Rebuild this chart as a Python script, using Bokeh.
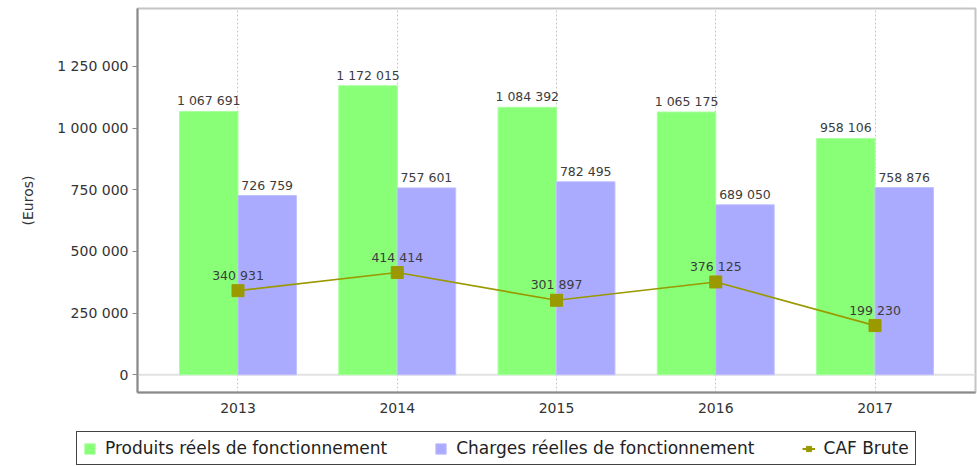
from bokeh.plotting import figure
from bokeh.layouts import column
from bokeh.models import (ColumnDataSource, FixedTicker, Range1d, Span, Legend, LegendItem,
                          LabelSet)
from bokeh.core.properties import value
from bokeh.embed import file_html
from bokeh.resources import INLINE

years = ["2013", "2014", "2015", "2016", "2017"]
produits = [1067691, 1172015, 1084392, 1065175, 958106]
charges = [726759, 757601, 782495, 689050, 758876]
caf = [340931, 414414, 301897, 376125, 199230]
y_ticks = [0, 250000, 500000, 750000, 1000000, 1250000]
series_names = ["Produits réels de fonctionnement", "Charges réelles de fonctionnement", "CAF Brute"]

GREEN = "#88ff77"
BLUE = "#aaaaff"
OLIVE = "#9a9a00"

def fmt(v):
    return f"{v:,}".replace(",", " ")

FONT = "DejaVu Sans"
idx = list(range(len(years)))
bw = 0.367

src = ColumnDataSource(dict(
    x=idx,
    xg=[i - bw / 2 for i in idx],
    xb=[i + bw / 2 for i in idx],
    produits=produits, charges=charges, caf=caf,
    lp=[fmt(v) for v in produits],
    lc=[fmt(v) for v in charges],
    lf=[fmt(v) for v in caf],
))

p = figure(width=977, height=428, output_backend="svg", toolbar_location=None,
           x_range=Range1d(-0.631, 4.631), y_range=Range1d(-72000, 1485000),
           min_border_left=137, min_border_right=2, min_border_top=8, min_border_bottom=36)

p.background_fill_color = "white"
p.border_fill_color = "white"
p.outline_line_color = "#c4c4c4"
p.outline_line_width = 2

# grid
p.ygrid.grid_line_color = None
p.xgrid.grid_line_color = "#c8c8c8"
p.xgrid.grid_line_dash = "2 2"
p.xgrid.grid_line_width = 1
p.xgrid.ticker = FixedTicker(ticks=idx)

zero = Span(location=0, dimension="width", line_color="#e2e2e2", line_width=2, level="underlay")
p.add_layout(zero)

bar_kw = dict(bottom=0, width=bw, source=src, line_width=1)
p.vbar(x="xg", top="produits", fill_color=GREEN, line_color="#a8ffa0", **bar_kw)
p.vbar(x="xb", top="charges", fill_color=BLUE, line_color="#c0c0ff", **bar_kw)
p.line(x="x", y="caf", source=src, line_color=OLIVE, line_width=1.6)
p.scatter(x="x", y="caf", source=src, marker="square", size=12,
          fill_color=OLIVE, line_color=OLIVE)

# value labels
for xcol, ycol, tcol, off in (("xg", "produits", "lp", 3), ("xb", "charges", "lc", 3),
                              ("x", "caf", "lf", 8)):
    p.add_layout(LabelSet(x=xcol, y=ycol, text=tcol, source=src, text_align="center",
                          text_baseline="bottom", y_offset=off, text_font=value(FONT),
                          text_font_size=value("12.5px"), text_color=value("#3c3c3c")))

# axes
p.xaxis.ticker = FixedTicker(ticks=idx)
p.xaxis.major_label_overrides = {i: y for i, y in zip(idx, years)}
p.yaxis.ticker = FixedTicker(ticks=y_ticks)
p.yaxis.major_label_overrides = {v: fmt(v) for v in y_ticks}
for ax in (p.xaxis[0], p.yaxis[0]):
    ax.axis_line_color = "#8a8a8a"
    ax.axis_line_width = 2
    ax.major_tick_line_color = "#8a8a8a"
    ax.minor_tick_line_color = None
    ax.major_label_text_font = FONT
    ax.major_label_text_font_size = "14px"
    ax.major_label_text_color = "#333333"
p.xaxis.major_tick_out = 0
p.xaxis.major_tick_in = 0
p.xaxis.major_label_standoff = 10
p.yaxis.major_tick_out = 5
p.yaxis.major_tick_in = 0
p.yaxis.major_label_standoff = 4
p.yaxis.axis_label = "(Euros)"
p.yaxis.axis_label_text_font = FONT
p.yaxis.axis_label_text_font_size = "14px"
p.yaxis.axis_label_text_font_style = "normal"
p.yaxis.axis_label_text_color = "#333333"
p.yaxis.axis_label_standoff = 18

# legend strip (separate figure below the chart); its glyphs use the same data,
# but its ranges keep them out of view so only the legend shows
p2 = figure(width=977, height=38, output_backend="svg", toolbar_location=None,
            x_range=Range1d(100, 101), y_range=Range1d(1e9, 1e9 + 1),
            x_axis_location=None, y_axis_location=None,
            min_border_left=0, min_border_right=0, min_border_top=0, min_border_bottom=0)
p2.grid.visible = False
p2.outline_line_color = None
p2.border_fill_color = "white"
lg = p2.vbar(x="xg", top="produits", fill_color=GREEN, line_color="#a8ffa0", **bar_kw)
lb = p2.vbar(x="xb", top="charges", fill_color=BLUE, line_color="#c0c0ff", **bar_kw)
ll = p2.line(x="x", y="caf", source=src, line_color=OLIVE, line_width=2)
lm = p2.scatter(x="x", y="caf", source=src, marker="square", size=9,
                fill_color=OLIVE, line_color=OLIVE)

legend = Legend(items=[
    LegendItem(label=series_names[0], renderers=[lg]),
    LegendItem(label=series_names[1], renderers=[lb]),
    LegendItem(label=series_names[2], renderers=[ll, lm]),
], orientation="horizontal", location=(76, 1), padding=6, margin=0,
    spacing=47, glyph_width=13, glyph_height=13, label_standoff=9,
    label_text_font=FONT, label_text_font_size="17px", label_text_color="#222222",
    border_line_color="#444444", border_line_width=1.5, border_line_alpha=1,
    background_fill_alpha=1)
p2.add_layout(legend, "center")

layout = column(p, column(p2), spacing=0)
open("out.html", "w").write(file_html(layout, INLINE))
